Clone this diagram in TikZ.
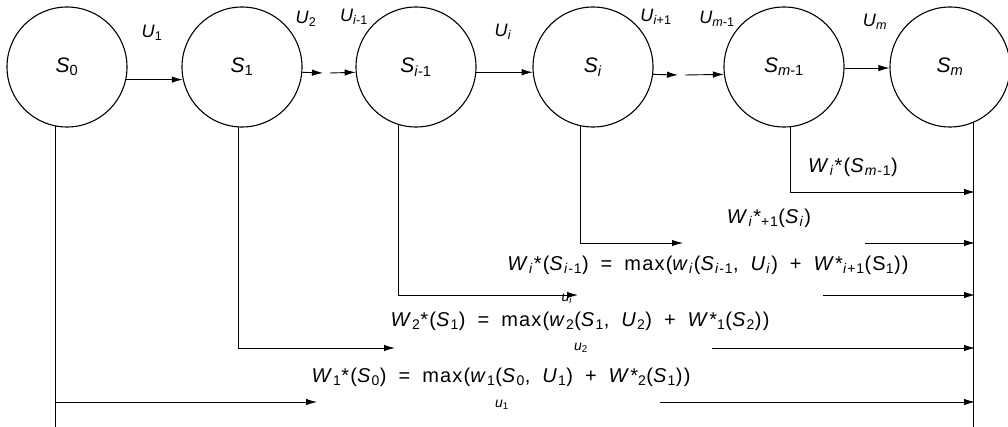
\documentclass[tikz,border=0pt]{standalone}
\usepackage{fontspec}
\setmainfont{Liberation Sans}
\usetikzlibrary{arrows.meta}
\newcommand\vi[1]{\textit{#1}}
\newcommand\sbx[1]{\textsubscript{#1}}
\newcommand\gp{\hspace{0.6em}}
\begin{document}
\begin{tikzpicture}[x=1pt,y=-1pt,
  state/.style={circle,draw,line width=1.1pt,minimum size=120pt,inner sep=0pt,font=\fontsize{21}{23}\selectfont},
  arr/.style={line width=0.9pt,-{Latex[length=11pt,width=6.5pt]}},
  ln/.style={line width=0.9pt},
  lab/.style={inner sep=0pt,font=\fontsize{18}{20}\selectfont},
  eq/.style={inner sep=0pt,font=\fontsize{20}{22}\selectfont\addfontfeature{LetterSpace=6}},
  sub/.style={inner sep=0pt,font=\fontsize{14}{15}\selectfont}]
\useasboundingbox (0,0) rectangle (1008,427);
% states
\node[state] (S0) at (67,67) {\vi{S}\sbx{0}};
\node[state] (S1) at (242,67) {\vi{S}\sbx{1}};
\node[state] (Si1) at (416,67) {\vi{S}\sbx{\vi{i}-1}};
\node[state] (Si) at (593,67) {\vi{S}\sbx{\vi{i}}};
\node[state] (Sm1) at (784,67) {\vi{S}\sbx{\vi{m}-1}};
\node[state] (Sm) at (950,67) {\vi{S}\sbx{\vi{m}}};
% U labels
\node[lab] (u1) at (152,33) {\vi{U}\sbx{1}};
\node[lab] (u2) at (306,19) {\vi{U}\sbx{2}};
\node[lab] (ui1) at (354,17) {\vi{U}\sbx{\vi{i}-1}};
\node[lab] (ui) at (503,32) {\vi{U}\sbx{\vi{i}}};
\node[lab] (uip) at (656,17) {\vi{U}\sbx{\vi{i}+1}};
\node[lab] (um1) at (717,19) {\vi{U}\sbx{\vi{m}-1}};
\node[lab] (um) at (875,22) {\vi{U}\sbx{\vi{m}}};
% top arrows
\coordinate (d1) at (323,73);
\coordinate (d2) at (330,73);
\coordinate (d3) at (678,75);
\coordinate (d4) at (685,75);
\draw[arr] (S0.-12.5) -- (S1.192.5);
\draw[arr] (S1.-5.7) -- (d1);
\draw[arr] (d2) -- (Si1.185.7);
\draw[arr] (Si1.-5) -- (Si.185);
\draw[arr] (Si.-7.7) -- (d3);
\draw[arr] (d4) -- (Sm1.187.7);
\draw[arr] (Sm1.-1) -- (Sm.181);
% right collector line
\coordinate (bm) at (975,427);
\draw[ln] (Sm.-67.5) -- (Sm.-67.5 |- bm);
% feedback lines
\coordinate (em1) at (975,192);
\draw[arr] (Sm1.-84.3) |- (em1);
\coordinate (ai) at (683,243);
\coordinate (bi) at (865,243);
\coordinate (ei) at (975,243);
\draw[arr] (Si.-102.5) |- (ai);
\draw[arr] (bi) -- (ei);
\coordinate (ai1) at (578,295);
\coordinate (bi1) at (823,295);
\coordinate (ei1) at (975,295);
\draw[arr] (Si1.-107.5) |- (ai1);
\draw[arr] (bi1) -- (ei1);
\coordinate (a1) at (395,348);
\coordinate (b1) at (712,348);
\coordinate (e1) at (975,348);
\draw[arr] (S1.-93.8) |- (a1);
\draw[arr] (b1) -- (e1);
\coordinate (a0) at (317,402);
\coordinate (b0) at (660,402);
\coordinate (e0) at (975,402);
\coordinate (f0) at (55,427);
\draw[ln] (S0.-101.5) -- (S0.-101.5 |- f0);
\draw[arr] (S0.-101.5 |- a0) -- (a0);
\draw[arr] (b0) -- (e0);
% formulas
\node[eq] (wm) at (853,167) {\vi{W}\sbx{\vi{i}}*(\vi{S}\sbx{\vi{m}-1})};
\node[eq] (wi) at (769,218) {\vi{W}\sbx{\vi{i}}*\sbx{+1}(\vi{S}\sbx{\vi{i}})};
\node[eq] (fi) at (708,265) {\vi{W}\sbx{\vi{i}}*(\vi{S}\sbx{\vi{i}-1})\gp=\gp max(\vi{w}\sbx{\vi{i}}(\vi{S}\sbx{\vi{i}-1},\gp\vi{U}\sbx{\vi{i}})\gp+\gp\vi{W}*\sbx{\vi{i}+1}(S\sbx{1}))};
\node[sub] (uis) at (567,299) {\vi{u}\sbx{\vi{i}}};
\node[eq] (f2) at (580,321) {\vi{W}\sbx{2}*(\vi{S}\sbx{1})\gp=\gp max(\vi{w}\sbx{2}(\vi{S}\sbx{1},\gp\vi{U}\sbx{2})\gp+\gp\vi{W}*\sbx{1}(\vi{S}\sbx{2}))};
\node[sub] (u2s) at (581,348) {\vi{u}\sbx{2}};
\node[eq] (f1) at (501,377) {\vi{W}\sbx{1}*(\vi{S}\sbx{0})\gp=\gp max(\vi{w}\sbx{1}(\vi{S}\sbx{0},\gp\vi{U}\sbx{1})\gp+\gp\vi{W}*\sbx{2}(\vi{S}\sbx{1}))};
\node[sub] (u1s) at (502,405) {\vi{u}\sbx{1}};
\end{tikzpicture}
\end{document}
